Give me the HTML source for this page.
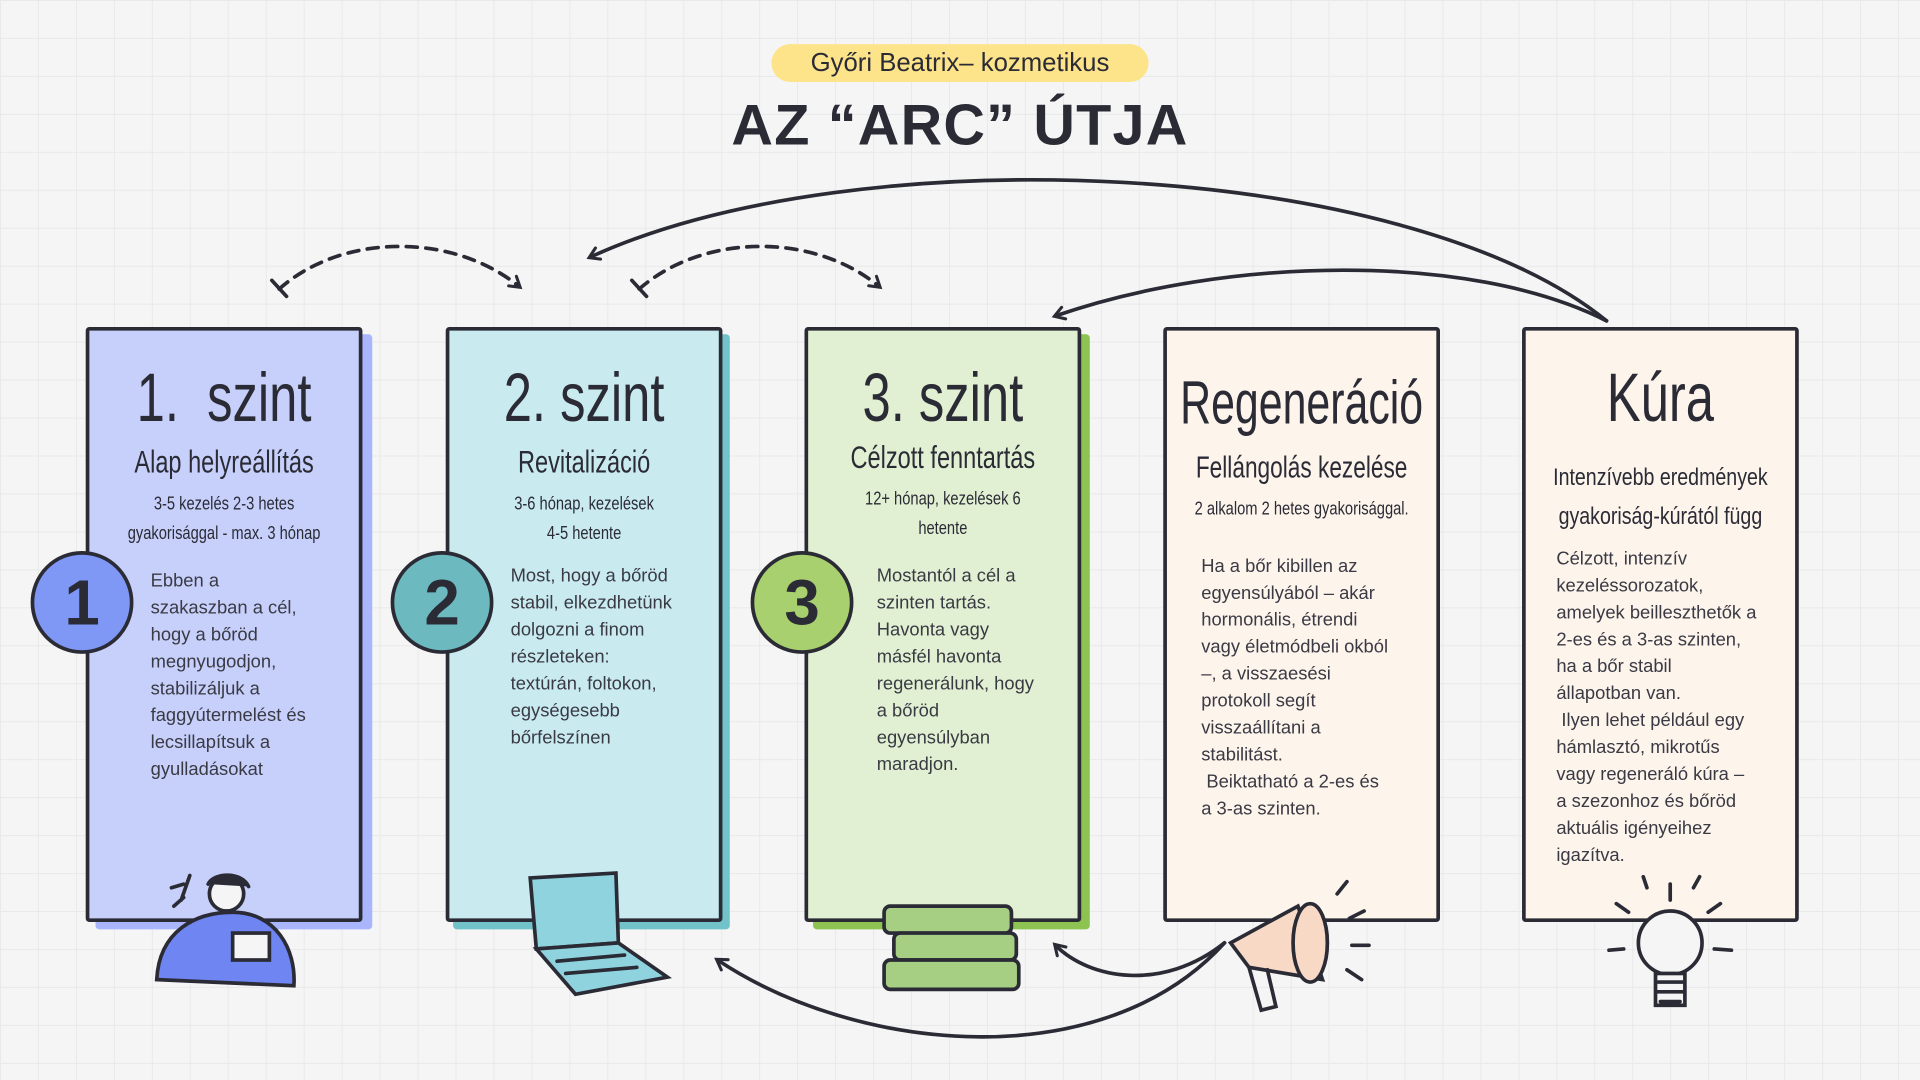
<!DOCTYPE html>
<html><head><meta charset="utf-8"><style>
html,body{margin:0;padding:0;width:1920px;height:1080px;overflow:hidden;background:#f5f5f5}
#w{position:absolute;left:0;top:0;width:1568px;height:882px;transform:scale(1.22449);transform-origin:0 0;
background-color:#f5f5f5;background-image:linear-gradient(#e9e9e9 1px,transparent 1px),linear-gradient(90deg,#e9e9e9 1px,transparent 1px);background-size:31px 31px;font-family:"Liberation Sans",sans-serif;color:#2b2b36}
.card{position:absolute;top:267px;width:226px;height:486px;border:3px solid #2b2b36;border-radius:3px;box-sizing:border-box}
.h{position:absolute;left:-100px;width:420px;text-align:center;font-weight:normal;transform:scaleX(.74);white-space:nowrap}
.s{position:absolute;left:-100px;width:420px;text-align:center;font-size:15px;line-height:24px;transform:scaleX(.8);white-space:nowrap}
.b{position:absolute;font-size:15px;line-height:22px;color:#3a3a44}
.c{position:absolute;width:84px;height:84px;border-radius:50%;border:3px solid #2b2b36;box-sizing:border-box;text-align:center;line-height:80px;font-size:52px;font-weight:bold}
</style></head><body><div id="w">
<div style="position:absolute;left:630px;top:36px;width:308px;height:31px;border-radius:16px;background:#fde38a;text-align:center;font-size:21px;line-height:31px">Győri Beatrix– kozmetikus</div>
<div style="position:absolute;left:0;width:1568px;top:74px;text-align:center;font-size:47px;font-weight:bold;letter-spacing:1px">AZ “ARC” ÚTJA</div>

<div class="card" style="left:70px;background:#c6d0fb;box-shadow:8px 6px 0 #a9b6fb">
<div class="h" style="top:22px;font-size:56px">1.&nbsp; szint</div>
<div class="h" style="top:92px;font-size:26px">Alap helyreállítás</div>
<div class="s" style="top:130px">3-5 kezelés 2-3 hetes<br>gyakorisággal - max. 3 hónap</div>
<div class="b" style="left:50px;top:194px">Ebben a<br>szakaszban a cél,<br>hogy a bőröd<br>megnyugodjon,<br>stabilizáljuk a<br>faggyútermelést és<br>lecsillapítsuk a<br>gyulladásokat</div></div>
<div class="card" style="left:364px;background:#c9ebf0;box-shadow:6px 6px 0 #72c3c9">
<div class="h" style="top:22px;font-size:56px">2. szint</div>
<div class="h" style="top:92px;font-size:26px">Revitalizáció</div>
<div class="s" style="top:130px">3-6 hónap, kezelések<br>4-5 hetente</div>
<div class="b" style="left:50px;top:190px">Most, hogy a bőröd<br>stabil, elkezdhetünk<br>dolgozni a finom<br>részleteken:<br>textúrán, foltokon,<br>egységesebb<br>bőrfelszínen</div></div>
<div class="card" style="left:657px;background:#e1f0d2;box-shadow:7px 6px 0 #8cc351">
<div class="h" style="top:22px;font-size:56px">3. szint</div>
<div class="h" style="top:88px;font-size:26px">Célzott fenntartás</div>
<div class="s" style="top:126px">12+ hónap, kezelések 6<br>hetente</div>
<div class="b" style="left:56px;top:190px">Mostantól a cél a<br>szinten tartás.<br>Havonta vagy<br>másfél havonta<br>regenerálunk, hogy<br>a bőröd<br>egyensúlyban<br>maradjon.</div></div>
<div class="card" style="left:950px;background:#fdf4ec">
<div class="h" style="top:30px;font-size:50px;transform:scaleX(.7)">Regeneráció</div>
<div class="h" style="top:98px;font-size:25px">Fellángolás kezelése</div>
<div class="s" style="top:134px">2 alkalom 2 hetes gyakorisággal.</div>
<div class="b" style="left:28px;top:182px">Ha a bőr kibillen az<br>egyensúlyából – akár<br>hormonális, étrendi<br>vagy életmódbeli okból<br>–, a visszaesési<br>protokoll segít<br>visszaállítani a<br>stabilitást.<br>&nbsp;Beiktatható a 2-es és<br>a 3-as szinten.</div></div>
<div class="card" style="left:1243px;background:#fdf4ec">
<div class="h" style="top:22px;font-size:56px">Kúra</div>
<div class="s" style="top:104px;font-size:20px;line-height:32px">Intenzívebb eredmények<br>gyakoriság-kúrától függ</div>
<div class="b" style="left:25px;top:176px">Célzott, intenzív<br>kezeléssorozatok,<br>amelyek beilleszthetők a<br>2-es és a 3-as szinten,<br>ha a bőr stabil<br>állapotban van.<br>&nbsp;Ilyen lehet például egy<br>hámlasztó, mikrotűs<br>vagy regeneráló kúra –<br>a szezonhoz és bőröd<br>aktuális igényeihez<br>igazítva.</div></div>

<div class="c" style="left:25px;top:450px;background:#7f98f6">1</div>
<div class="c" style="left:319px;top:450px;background:#6db9c0">2</div>
<div class="c" style="left:613px;top:450px;background:#a8d06e">3</div>

<svg width="1568" height="882" style="position:absolute;left:0;top:0" fill="none" stroke="#2b2b36" stroke-width="3" stroke-linecap="round">
<defs><marker id="a" markerWidth="14" markerHeight="14" refX="9" refY="7" orient="auto" markerUnits="userSpaceOnUse" viewBox="0 0 14 14"><path d="M2 2L10 7L2 12" stroke="#2b2b36" stroke-width="2.5" fill="none" stroke-linecap="round"/></marker></defs>
<path d="M228 236 C280 190 370 190 424 234" stroke-dasharray="9 7" marker-end="url(#a)"/>
<path d="M222 229 L234 242"/>
<path d="M522 236 C575 190 665 190 718 234" stroke-dasharray="9 7" marker-end="url(#a)"/>
<path d="M516 229 L528 242"/>
<path d="M1312 262 C1150 130 700 110 482 210" marker-end="url(#a)"/>
<path d="M1312 262 C1200 205 1000 210 862 258" marker-end="url(#a)"/>
<path d="M1000 770 C900 880 700 860 586 784" marker-end="url(#a)"/>
<path d="M1000 770 C950 810 890 800 862 772" marker-end="url(#a)"/>
<path d="M128 800 C130 760 160 745 190 745 C225 745 242 775 240 805 Z" fill="#6f86f2"/>
<circle cx="185" cy="730" r="14" fill="#f5f5f5"/>
<path d="M170 722 C175 712 198 712 203 724" fill="#2b2b36"/>
<rect x="190" y="762" width="30" height="22" fill="#f5f5f5"/>
<path d="M148 735 L155 715 M140 725 L150 722 M142 740 L150 733"/>
<path d="M433 717 L503 713 L505 770 L438 775 Z" fill="#8fd3de"/>
<path d="M438 775 L505 770 L545 798 L470 812 Z" fill="#8fd3de"/>
<path d="M455 785 L510 780 M462 795 L520 790"/>
<rect x="722" y="740" width="104" height="22" rx="5" fill="#a6cf84"/>
<rect x="730" y="762" width="100" height="22" rx="5" fill="#a6cf84"/>
<rect x="722" y="784" width="110" height="24" rx="5" fill="#a6cf84"/>
<path d="M1005 770 L1060 740 L1080 800 L1020 790 Z" fill="#f8d9c6"/>
<ellipse cx="1070" cy="770" rx="14" ry="32" fill="#f8d9c6"/>
<path d="M1020 790 L1030 825 L1042 822 L1035 792"/>
<path d="M1092 730 L1100 720 M1102 750 L1114 744 M1104 772 L1118 772 M1100 792 L1112 800"/>
<circle cx="1364" cy="770" r="26" fill="#f5f5f5"/>
<rect x="1352" y="795" width="24" height="26" fill="#f5f5f5"/>
<path d="M1354 802 H1374 M1354 810 H1374 M1356 818 H1372"/>
<path d="M1330 745 L1320 738 M1364 735 L1364 722 M1395 745 L1405 738 M1400 775 L1414 776 M1326 775 L1314 776 M1345 725 L1342 716 M1383 725 L1388 716"/>
</svg>
</div></body></html>
